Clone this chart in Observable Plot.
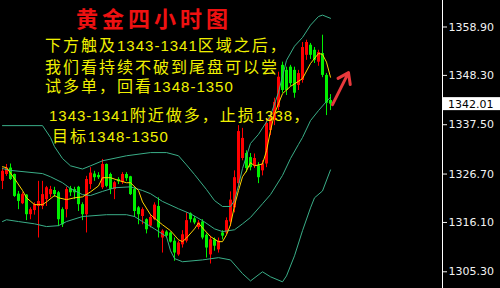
<!DOCTYPE html>
<html>
<head>
<meta charset="utf-8">
<script src="https://cdn.jsdelivr.net/npm/d3@7"></script>
<script src="https://cdn.jsdelivr.net/npm/@observablehq/plot@0.6"></script>
<style>
  html, body { margin: 0; padding: 0; background: #000; }
  #chart { width: 500px; height: 288px; overflow: hidden; }
  #chart svg { display: block; }
</style>
</head>
<body>
<div id="chart"></div>
<script>
// Gold, 4-hour candles (index 0 = oldest bar on screen)
const opens  = [1325.1,1326.6,1328.0,1326.6,1322.3,1320.2,1322.1,1317.8,1318.7,1319.6,
                1319.6,1321.1,1322.2,1323.1,1322.6,1318.9,1318.9,1323.5,1323.3,1323.8,
                1320.0,1317.8,1324.4,1326.7,1326.4,1323.7,1328.8,1326.6,1323.3,1325.5,
                1324.8,1326.6,1326.1,1323.3,1319.3,1317.4,1316.7,1315.3,1316.7,1319.6,
                1312.7,1314.0,1313.8,1312.0,1309.0,1311.2,1312.0,1318.0,1316.9,1315.0,
                1316.2,1313.3,1309.0,1312.3,1310.1,1313.8,1313.8,1316.2,1319.3,1324.6,
                1330.1,1331.2,1330.3,1328.5,1328.5,1327.4,1328.9,1336.2,1338.4,1341.3,
                1350.5,1349.4,1350.1,1349.4,1346.1,1347.2,1352.7,1354.9,1353.8,1351.2,
                1353.1,1348.3,1342.8];
const highs  = [1328.0,1328.8,1328.9,1326.7,1322.9,1322.6,1322.2,1319.3,1320.4,1325.1,
                1325.1,1324.0,1324.0,1323.8,1322.9,1319.3,1323.8,1324.0,1323.8,1324.0,
                1320.4,1326.2,1328.1,1327.3,1327.0,1329.9,1328.9,1326.9,1325.1,1325.9,
                1327.0,1327.0,1326.2,1323.7,1319.6,1319.3,1316.9,1317.8,1320.4,1321.5,
                1314.5,1314.3,1314.0,1312.7,1312.0,1314.3,1318.2,1318.2,1317.4,1316.5,
                1316.7,1313.6,1313.1,1312.7,1312.7,1314.3,1317.1,1322.8,1327.4,1337.3,
                1336.7,1331.8,1331.2,1331.1,1329.2,1329.6,1338.9,1340.0,1343.3,1349.0,
                1351.2,1350.1,1350.5,1350.1,1349.4,1355.5,1356.0,1355.3,1354.4,1353.8,
                1357.1,1348.7,1344.1];
const lows   = [1323.3,1326.2,1325.3,1321.6,1318.9,1320.0,1316.5,1316.7,1317.7,1312.7,
                1318.9,1319.6,1321.5,1321.6,1315.2,1315.0,1317.1,1321.8,1321.1,1318.5,
                1316.5,1313.8,1323.3,1325.1,1325.5,1323.3,1323.7,1322.2,1321.1,1324.4,
                1324.4,1325.1,1322.0,1317.2,1315.6,1315.6,1313.6,1314.9,1316.5,1312.7,
                1309.4,1312.7,1311.6,1307.6,1308.7,1310.5,1311.6,1316.0,1315.6,1314.5,
                1312.3,1308.3,1307.0,1309.8,1309.4,1312.3,1313.4,1315.2,1318.2,1323.7,
                1329.6,1327.0,1327.4,1327.9,1324.6,1326.3,1328.1,1335.1,1337.3,1340.6,
                1344.4,1343.9,1345.9,1343.3,1345.0,1346.6,1351.6,1351.8,1350.9,1350.3,
                1347.8,1339.5,1340.6];
const closes = [1327.3,1328.0,1325.5,1321.8,1320.7,1322.2,1317.8,1318.9,1320.0,1320.7,
                1322.2,1323.7,1323.3,1322.2,1316.7,1315.6,1323.3,1322.6,1322.6,1320.0,
                1317.8,1325.5,1326.9,1325.9,1325.9,1328.8,1324.0,1323.3,1324.8,1325.0,
                1326.6,1325.7,1322.2,1318.5,1317.8,1318.9,1314.5,1317.2,1319.9,1314.9,
                1314.2,1313.1,1311.8,1309.4,1311.6,1313.4,1316.5,1316.7,1316.0,1316.0,
                1312.7,1310.5,1312.3,1310.9,1312.0,1313.1,1316.5,1321.0,1325.9,1336.0,
                1334.5,1327.9,1328.1,1330.1,1325.9,1328.9,1337.8,1338.9,1342.4,1347.9,
                1345.0,1345.0,1346.5,1344.4,1348.7,1354.4,1355.5,1352.7,1351.6,1353.3,
                1348.3,1342.2,1342.01];

// Bollinger bands and short moving average, sampled at bar indices
const upperIdx = [0,10,12,13,15,17,20,22,25,31,37,41,44,46,48,51,53,55,57,58,59,60,62,64,67,69,71,73,75,77,79,80,82];
const upperVal = [1337.3,1337.3,1334.7,1332.7,1330.1,1328.5,1327.8,1328.5,1329.6,1330.7,1331.4,1331.4,1330.7,1328.7,1326.6,1323.3,1320.9,1319.6,1319.6,1320.9,1324.2,1327.9,1333.4,1335.4,1339.5,1344.6,1351.6,1354.7,1356.6,1359.3,1361.2,1361.5,1360.8];
const middleIdx = [0,2,10,12,15,17,20,22,25,28,32,35,37,40,44,47,50,53,55,58,60,62,65,67,70,72,74,75,77,79,81,82];
const middleVal = [1327.9,1327.5,1326.8,1326.1,1324.8,1323.5,1322.2,1322.0,1322.9,1323.7,1323.9,1323.1,1322.4,1320.7,1319.1,1318.0,1316.5,1314.7,1314.1,1314.5,1315.8,1317.2,1320.2,1322.2,1326.4,1330.1,1333.2,1334.7,1338.4,1340.6,1342.6,1343.5];
const lowerIdx = [0,1,4,8,11,14,16,20,26,31,33,35,38,41,42,43,45,50,54,57,60,62,65,67,70,71,73,75,77,78,80,82];
const lowerVal = [1316.3,1316.7,1316.3,1315.8,1315.2,1315.4,1316.3,1317.4,1317.8,1317.8,1317.4,1316.3,1314.7,1313.0,1309.9,1308.2,1307.5,1307.9,1308.4,1307.9,1304.9,1303.3,1305.3,1304.2,1303.1,1304.4,1308.8,1314.3,1319.3,1321.5,1323.0,1327.6];
const maIdx = [0,1,3,5,6,8,10,11,13,14,16,18,20,22,24,25,27,29,31,32,34,35,37,39,40,42,44,45,46,48,49,50,52,54,55,56,57,58,59,60,61,62,63,65,66,67,68,69,70,72,74,75,77,79,80,81,82];
const maVal = [1328.3,1328.1,1325.7,1323.1,1321.5,1320.0,1320.0,1320.6,1322.0,1321.5,1321.1,1321.5,1321.7,1322.8,1324.1,1325.9,1325.9,1325.3,1324.8,1324.8,1323.1,1320.6,1317.8,1316.3,1315.6,1314.3,1312.3,1311.9,1312.7,1314.7,1316.0,1314.9,1313.0,1311.9,1311.9,1313.4,1315.6,1319.8,1323.1,1326.1,1327.4,1329.2,1328.5,1328.9,1331.8,1336.2,1339.9,1342.1,1344.3,1345.9,1347.0,1347.6,1350.9,1353.1,1352.9,1351.2,1347.9];

// Price axis labels
const yTicks = [1305.30, 1316.10, 1326.70, 1337.50, 1348.30, 1358.90];

// Texts
const title = "黄金四小时图";
const notes = [
  "下方触及1343-1341区域之后，",
  "我们看持续不破到尾盘可以尝",
  "试多单，回看1348-1350",
  "1343-1341附近做多，止损1338，",
  "目标1348-1350"
];
// Expected bounce: from the last bar toward the 1348-1350 target
const arrowPath = [{x1: 82.5, y1: 1341.9, x2: 86.5, y2: 1348.9}];

const UP = "#ff0000", DOWN = "#00f000", BAND = "#3aae88", MA = "#ffd400";

const candles = opens.map((o, i) => ({
  i, open: o, high: highs[i], low: lows[i], close: closes[i],
  color: closes[i] >= o ? UP : DOWN
}));
const series = (idx, val) => idx.map((i, k) => ({i, v: val[k]}));
const last = closes[closes.length - 1];

const chart = Plot.plot({
  width: 500,
  height: 288,
  marginLeft: 0,
  marginRight: 58,
  marginTop: 0,
  marginBottom: 0,
  style: {background: "#000", color: "#f2f2f2", fontFamily: "'DejaVu Sans', sans-serif", fontSize: "11px"},
  x: {domain: [-0.5, 110], axis: null},
  y: {domain: [1301.64, 1364.70], axis: null},
  color: {type: "identity"},
  marks: [
    Plot.frame({anchor: "right", stroke: "#ffffff"}),
    Plot.axisY(yTicks, {anchor: "right", tickSize: 4, tickPadding: 2, tickFormat: d => d.toFixed(2)}),
    // wicks, then bodies
    Plot.ruleX(candles, {x: "i", y1: "low", y2: "high", stroke: "color", strokeWidth: 1}),
    Plot.ruleX(candles, {x: "i", y1: "open", y2: "close", stroke: "color", strokeWidth: 3, strokeLinecap: "butt"}),
    Plot.line(series(upperIdx, upperVal), {x: "i", y: "v", stroke: BAND, strokeWidth: 1}),
    Plot.line(series(middleIdx, middleVal), {x: "i", y: "v", stroke: BAND, strokeWidth: 1}),
    Plot.line(series(lowerIdx, lowerVal), {x: "i", y: "v", stroke: BAND, strokeWidth: 1}),
    Plot.line(series(maIdx, maVal), {x: "i", y: "v", stroke: MA, strokeWidth: 1}),
    Plot.arrow(arrowPath, {x1: "x1", y1: "y1", x2: "x2", y2: "y2", stroke: "#e8393c", strokeWidth: 3, headLength: 10, headAngle: 70})
  ]
});

document.getElementById("chart").append(chart);

const svg = d3.select(chart);
const ys = chart.scale("y");

// Current price tag on the axis
const tagY = ys.apply(last);
const tag = svg.append("g").attr("text-anchor", "start");
tag.append("rect").attr("x", 443).attr("y", tagY - 6.5).attr("width", 57).attr("height", 13).attr("fill", "#ffffff");
tag.append("text").attr("x", 448).attr("y", tagY + 4)
  .attr("font-family", "'DejaVu Sans', sans-serif").attr("font-size", 11).attr("fill", "#000")
  .text(last.toFixed(2));

// Title
svg.append("text")
  .attr("text-anchor", "start")
  .attr("x", 76).attr("y", 27)
  .attr("font-family", "'Noto Sans CJK SC', sans-serif")
  .attr("font-weight", 700).attr("font-size", 22).attr("letter-spacing", 4)
  .attr("fill", "#ee1111")
  .text(title);

// Commentary: CJK runs full width, numbers in a narrower Latin face
const noteLayout = [[45, 51], [45, 72.5], [45, 91.7], [49, 120.7], [52, 141.7]];
const noteG = svg.append("g").attr("fill", "#f0f000").attr("text-anchor", "start");
notes.forEach((str, k) => {
  const t = noteG.append("text").attr("x", noteLayout[k][0]).attr("y", noteLayout[k][1]);
  for (const run of str.match(/[0-9.\-]+|[^0-9.\-]+/g)) {
    const num = /^[0-9.\-]/.test(run);
    t.append("tspan").text(run)
      .attr("font-family", num ? "'Liberation Sans', Arial, sans-serif" : "'Noto Sans CJK SC', sans-serif")
      .attr("font-size", num ? 15 : 16)
      .attr("letter-spacing", num ? 1 : 2);
  }
});
</script>
</body>
</html>
